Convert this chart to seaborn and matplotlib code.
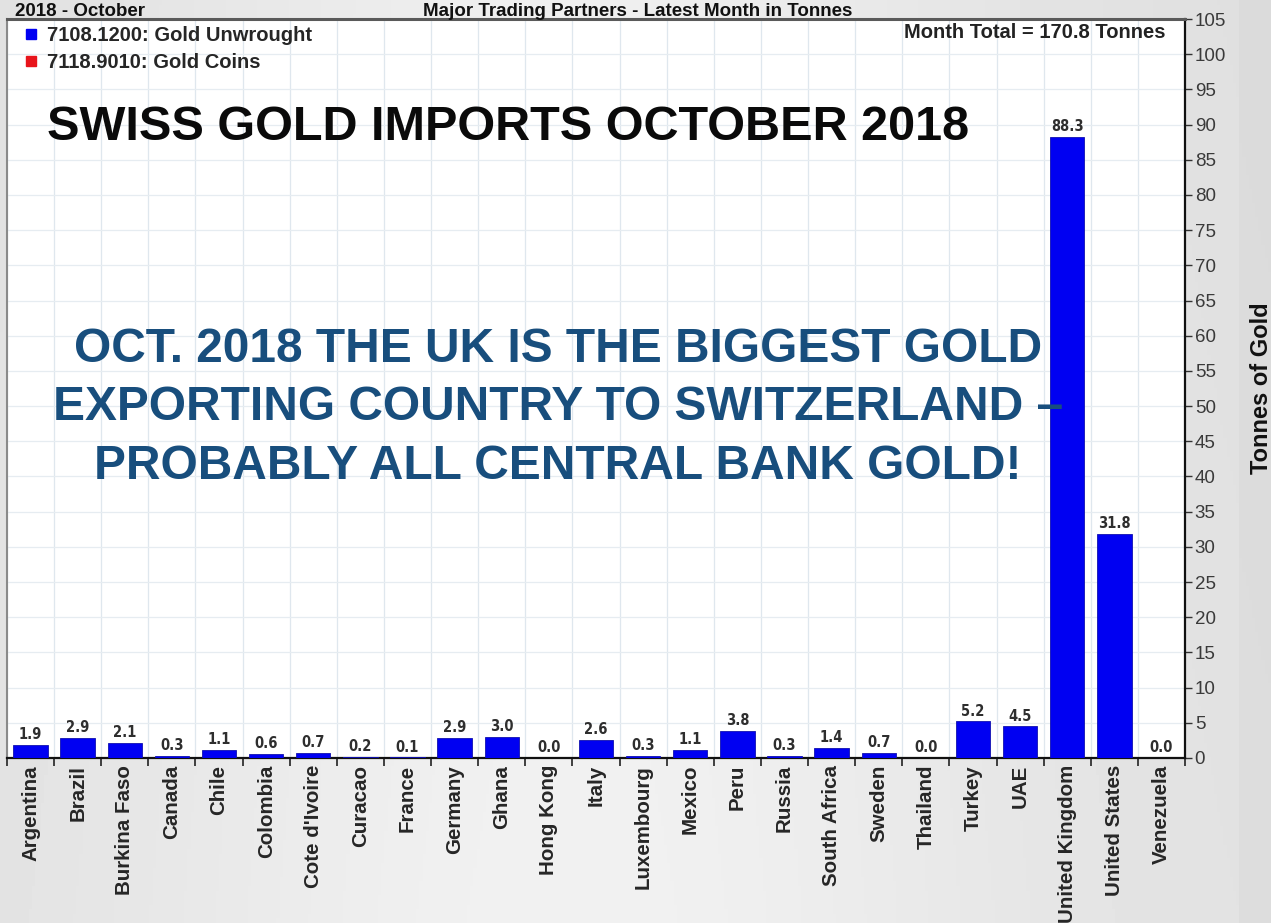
import numpy as np
import pandas as pd
import matplotlib
matplotlib.use("Agg")
import matplotlib.pyplot as plt
from matplotlib import font_manager
from matplotlib.lines import Line2D
from matplotlib.ticker import FixedLocator
import seaborn as sns

# Swiss gold imports by trading partner, October 2018 (tonnes)
countries = ["Argentina", "Brazil", "Burkina Faso", "Canada", "Chile", "Colombia",
             "Cote d'Ivoire", "Curacao", "France", "Germany", "Ghana", "Hong Kong",
             "Italy", "Luxembourg", "Mexico", "Peru", "Russia", "South Africa",
             "Sweden", "Thailand", "Turkey", "UAE", "United Kingdom",
             "United States", "Venezuela"]
gold_unwrought = [1.9, 2.9, 2.1, 0.3, 1.1, 0.6, 0.7, 0.2, 0.1, 2.9, 3.0, 0.0, 2.6,
                  0.3, 1.1, 3.8, 0.3, 1.4, 0.7, 0.0, 5.2, 4.5, 88.3, 31.8, 0.0]
series_labels = ["7108.1200: Gold Unwrought", "7118.9010: Gold Coins"]
series_colors = ["#0000f2", "#e8141b"]
month_total = 170.8
y_ticks = list(range(0, 106, 5))

sns.set_style("white")
plt.rcParams["font.family"] = ["Liberation Sans", "DejaVu Sans"]

W, H = 1271, 923
fig = plt.figure(figsize=(W / 100, H / 100), dpi=100)


def fx(px):
    return px / W


def fy(py):
    return 1 - py / H


# soft grey page behind the chart
bg = fig.add_axes([0, 0, 1, 1], zorder=-5)
xs = np.linspace(0, 1, 400)
shade = 0.88 + 0.065 * np.exp(-((xs - 0.45) / 0.35) ** 2) - 0.02 * (xs > 0.975)
ys = np.linspace(0, 1, 200)[:, None]
img = shade[None, :] * (0.99 + 0.01 * ys)
bg.imshow(img, cmap="gray", vmin=0, vmax=1, aspect="auto", extent=[0, 1, 0, 1])
bg.set_axis_off()

ax = fig.add_axes([fx(7), fy(758), fx(1185 - 7), (758 - 19) / H])
ax.set_facecolor("white")

df = pd.DataFrame({"country": countries, "tonnes": gold_unwrought})
sns.barplot(data=df, x="country", y="tonnes", color=series_colors[0], saturation=1,
            width=0.73, edgecolor="#1010b0", linewidth=0.6, ax=ax, zorder=3)

ax.set_xlim(-0.5, len(countries) - 0.5)
ax.set_ylim(0, 105)
ax.set_xlabel("")
ax.set_ylabel("")

# y axis on the right
ax.yaxis.tick_right()
ax.set_yticks(y_ticks)
ax.set_yticklabels([str(t) for t in y_ticks])
ax.tick_params(axis="y", which="major", direction="out", length=5, width=1,
               color="#333333", labelsize=13.5, labelcolor="#3a3a3a", pad=2,
               left=False, right=True)

# category labels under bars, tick marks between categories
ax.xaxis.set_minor_locator(FixedLocator(np.arange(-0.5, len(countries), 1.0)))
ax.tick_params(axis="x", which="major", length=0, pad=5)
ax.tick_params(axis="x", which="minor", direction="out", length=6, width=1.2,
               color="#222222", bottom=True)
for lbl in ax.get_xticklabels():
    lbl.set_rotation(90)
    lbl.set_fontsize(14.8)
    lbl.set_fontweight("bold")
    lbl.set_va("top")
    lbl.set_ha("center")

ax.grid(False)
ax.xaxis.grid(True, which="minor", color="#dfe7ee", linewidth=0.9, zorder=0)
ax.yaxis.grid(True, which="major", color="#e6ecf1", linewidth=0.9, zorder=0)
ax.set_axisbelow(True)

for side, col, lw in [("right", "#111111", 1.6), ("bottom", "#111111", 1.6),
                      ("top", "#5a5a5a", 2.2), ("left", "#8a8a8a", 1.5)]:
    ax.spines[side].set_visible(True)
    ax.spines[side].set_color(col)
    ax.spines[side].set_linewidth(lw)

# value labels on each bar
ax.bar_label(ax.containers[0], labels=[f"{v:.1f}" for v in gold_unwrought],
             padding=2, fontsize=10.5, fontweight="bold", color="#2e2e2e",
             family="DejaVu Sans", fontstretch="condensed", zorder=4)

# legend
handles = [Line2D([], [], marker="s", linestyle="none", markersize=7,
                  markerfacecolor=c, markeredgecolor=c) for c in series_colors]
ax.legend(handles, series_labels, loc="upper left",
          bbox_to_anchor=(fx(24), fy(26)), bbox_transform=fig.transFigure,
          frameon=False, prop={"weight": "bold", "size": 14.5},
          handlelength=0.7, handletextpad=0.45, labelspacing=0.42,
          borderpad=0, borderaxespad=0)

ax.text(fx(1166), fy(32), f"Month Total = {month_total:.1f} Tonnes",
        transform=fig.transFigure, ha="right", va="center",
        fontsize=14.5, fontweight="bold", color="#222222")

# header lines above the plot frame
fig.text(fx(15), fy(16), "2018 - October", ha="left", va="baseline",
         fontsize=13.5, fontweight="bold", color="#111111")
fig.text(fx(638), fy(16), "Major Trading Partners - Latest Month in Tonnes",
         ha="center", va="baseline", fontsize=13.5, fontweight="bold",
         color="#111111")

fig.text(fx(1262), fy(388), "Tonnes of Gold", rotation=90, ha="center",
         va="center", fontsize=17, fontweight="bold", color="#111111")

# headline and commentary
fig.text(fx(47), fy(140), "SWISS GOLD IMPORTS OCTOBER 2018", ha="left",
         va="baseline", fontsize=35, fontweight="bold", color="#0a0a0a")

names = {f.name for f in font_manager.fontManager.ttflist}
if "Liberation Sans Narrow" in names:
    note_family, note_size = ["Liberation Sans Narrow", "Liberation Sans"], 41
else:
    note_family, note_size = ["Liberation Sans", "DejaVu Sans"], 34.5

note_lines = ["OCT. 2018 THE UK IS THE BIGGEST GOLD",
              "EXPORTING COUNTRY TO SWITZERLAND \u2013",
              "PROBABLY ALL CENTRAL BANK GOLD!"]
note_baselines = [362, 420, 479]
for line, base in zip(note_lines, note_baselines):
    fig.text(fx(558), fy(base), line, ha="center", va="baseline",
             fontsize=note_size, fontweight="bold", color="#184e7d",
             family=note_family, zorder=5)

fig.savefig("out.png", dpi=100)
